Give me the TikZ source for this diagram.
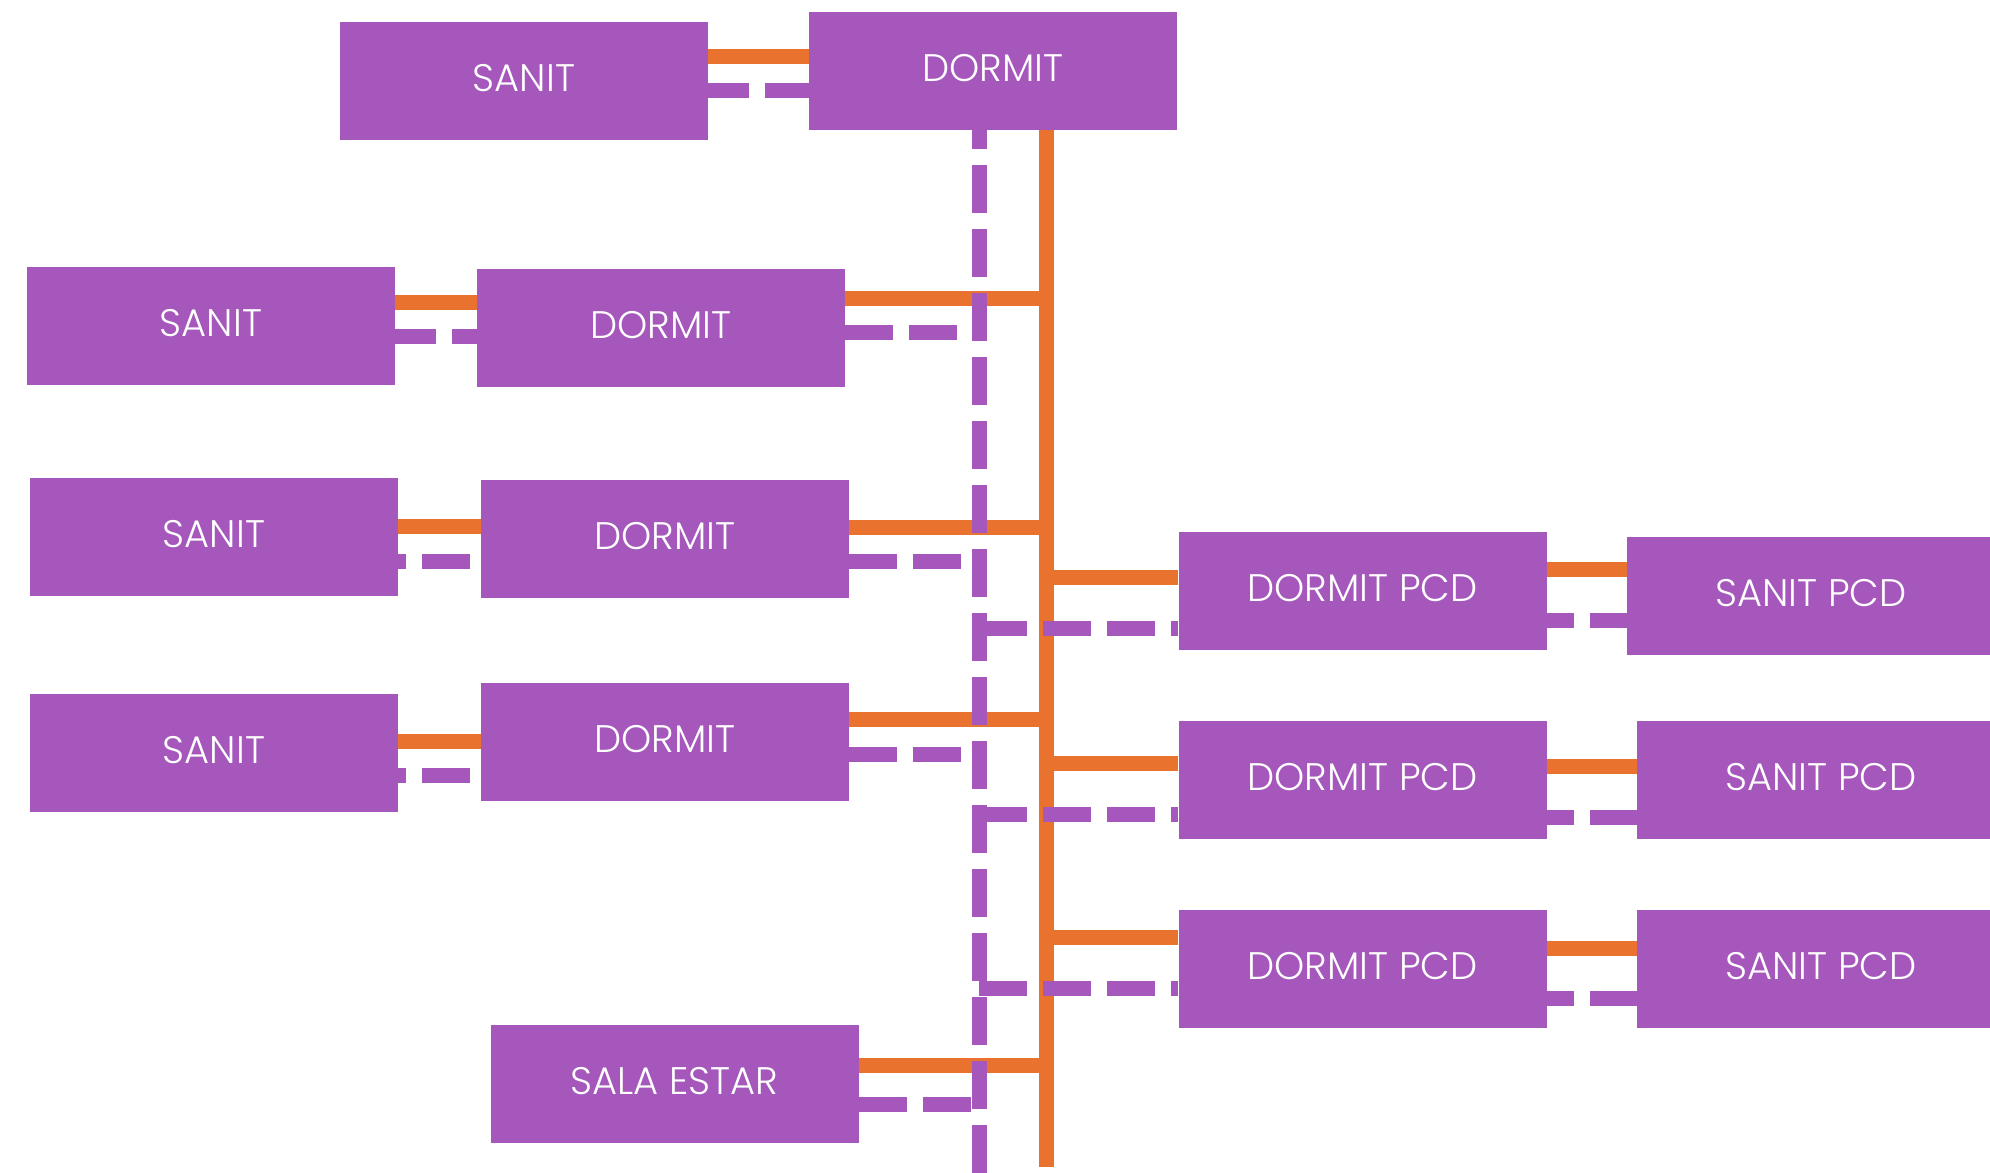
\documentclass[tikz,border=0pt]{standalone}
\usepackage{fontspec}
\setmainfont{Poppins}[UprightFont=* Light]
\definecolor{pur}{RGB}{165,87,187}
\definecolor{org}{RGB}{233,115,46}
\begin{document}
\begin{tikzpicture}[x=0.5pt,y=-0.5pt,
 box/.style={fill=pur, draw=none, minimum width=184pt, minimum height=59pt, inner sep=0pt, text=white, text height=13.4pt, text depth=2.6pt, font=\fontsize{19.2pt}{21pt}\selectfont},
 oline/.style={draw=org, line width=7.5pt},
 pline/.style={draw=pur, line width=7.5pt, dash pattern=on 24pt off 8pt},
]
\useasboundingbox (0,0) rectangle (1990,1172);
% boxes
\node[box] (sanA) at (524,81) {SANIT};
\node[box] (dorA) at (993,71) {DORMIT};
\node[box] (sanB) at (211,326) {SANIT};
\node[box] (dorB) at (661,328) {DORMIT};
\node[box] (sanC) at (214,537) {SANIT};
\node[box] (dorC) at (665,539) {DORMIT};
\node[box] (sanD) at (214,753) {SANIT};
\node[box] (dorD) at (665,742) {DORMIT};
\node[box] (sala) at (674.5,1084) {SALA ESTAR};
\node[box] (pcdA) at (1362.5,590.5) {DORMIT PCD};
\node[box] (spcA) at (1811,595.5) {SANIT PCD};
\node[box] (pcdB) at (1362.5,779.5) {DORMIT PCD};
\node[box] (spcB) at (1821,779.5) {SANIT PCD};
\node[box] (pcdC) at (1362.5,968.5) {DORMIT PCD};
\node[box] (spcC) at (1821,968.5) {SANIT PCD};
% trunk ends
\coordinate (oend) at (1046,1167);
\coordinate (pend) at (979,1180);
% orange lines
\draw[oline] (1046,0 |- dorA.south) -- (oend);
\draw[oline] (sanA.east |- 0,56.5) -- (dorA.west |- 0,56.5);
\draw[oline] (sanB.east |- 0,302) -- (dorB.west |- 0,302);
\draw[oline] (sanC.east |- 0,526) -- (dorC.west |- 0,526);
\draw[oline] (sanD.east |- 0,741) -- (dorD.west |- 0,741);
\draw[oline] (dorB.east |- 0,298) -- (oend |- 0,298);
\draw[oline] (dorC.east |- 0,527) -- (oend |- 0,527);
\draw[oline] (dorD.east |- 0,719) -- (oend |- 0,719);
\draw[oline] (sala.east |- 0,1065) -- (oend |- 0,1065);
\draw[oline] (oend |- 0,577) -- (pcdA.west |- 0,577);
\draw[oline] (oend |- 0,763) -- (pcdB.west |- 0,763);
\draw[oline] (oend |- 0,937) -- (pcdC.west |- 0,937);
\draw[oline] (pcdA.east |- 0,569) -- (spcA.west |- 0,569);
\draw[oline] (pcdB.east |- 0,766) -- (spcB.west |- 0,766);
\draw[oline] (pcdC.east |- 0,948) -- (spcC.west |- 0,948);
% purple dashed lines
\draw[pline, dash phase=14.5pt] (979,0 |- dorA.south) -- (pend);
\draw[pline, dash phase=3.5pt] (sanA.east |- 0,91) -- (dorA.west |- 0,91);
\draw[pline, dash phase=3.5pt] (sanB.east |- 0,336) -- (dorB.west |- 0,336);
\draw[pline, dash phase=20pt] (sanC.east |- 0,561) -- (dorC.west |- 0,561);
\draw[pline, dash phase=20pt] (sanD.east |- 0,775) -- (dorD.west |- 0,775);
\draw[pline] (dorB.east |- 0,332) -- (971,332);
\draw[pline] (dorC.east |- 0,561) -- (971,561);
\draw[pline] (dorD.east |- 0,754) -- (971,754);
\draw[pline] (sala.east |- 0,1104) -- (971,1104);
\draw[pline] (pend |- 0,628) -- (pcdA.west |- 0,628);
\draw[pline] (pend |- 0,814) -- (pcdB.west |- 0,814);
\draw[pline] (pend |- 0,988) -- (pcdC.west |- 0,988);
\draw[pline, dash phase=10.5pt] (pcdA.east |- 0,620) -- (spcA.west |- 0,620);
\draw[pline, dash phase=10.5pt] (pcdB.east |- 0,817) -- (spcB.west |- 0,817);
\draw[pline, dash phase=10.5pt] (pcdC.east |- 0,998) -- (spcC.west |- 0,998);
\end{tikzpicture}
\end{document}
